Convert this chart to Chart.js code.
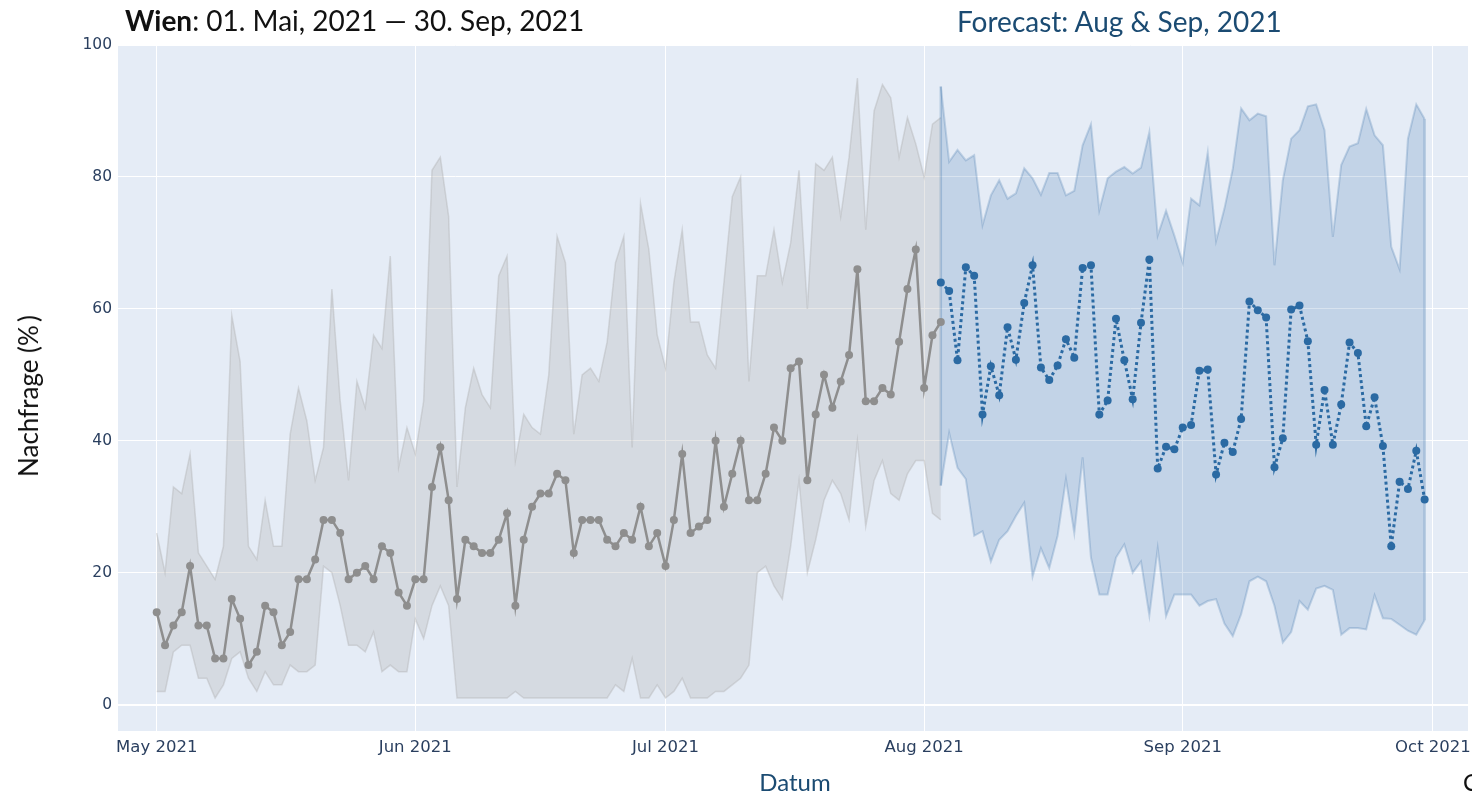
<!DOCTYPE html>
<html>
<head>
<meta charset="utf-8">
<script src="https://cdn.jsdelivr.net/npm/chart.js@4"></script>
<style>
  body { margin: 0; background: #fff; }
  #wrap { position: relative; width: 1472px; height: 794px; overflow: hidden; }
  #chart { position: absolute; left: 0; top: 0; }
  .lbl { position: absolute; font-family: Lato, sans-serif; white-space: nowrap; line-height: 1; }
</style>
</head>
<body>
<div id="wrap">
  <canvas id="chart" width="1472" height="794"></canvas>
  <div class="lbl" style="left:125px; top:6px; font-size:28px; color:#111;"><b>Wien</b>: 01. Mai, 2021 — 30. Sep, 2021</div>
  <div class="lbl" style="left:957px; top:7px; font-size:28px; color:#1b4b72;">Forecast: Aug &amp; Sep, 2021</div>
  <div class="lbl" style="left:28px; top:396px; font-size:26px; color:#111; transform: translate(-50%,-50%) rotate(-90deg);">Nachfrage (%&#8201;)</div>
  <div class="lbl" style="left:795px; top:782px; font-size:24px; color:#1b4b72; transform: translate(-50%,-50%);">Datum</div>
  <div class="lbl" style="left:1463px; top:770px; font-size:24px; color:#111;">C</div>
</div>
<script>
// days counted from 01. Mai 2021 (index 0)
var histStart = 0;      // 01.05.2021
var forecastStart = 94; // 03.08.2021

// observed demand (%), daily
var histMean = [14, 9, 12, 14, 21, 12, 12, 7, 7, 16, 13, 6, 8, 15, 14, 9, 11, 19, 19, 22,
  28, 28, 26, 19, 20, 21, 19, 24, 23, 17, 15, 19, 19, 33, 39, 31, 16, 25, 24, 23,
  23, 25, 29, 15, 25, 30, 32, 32, 35, 34, 23, 28, 28, 28, 25, 24, 26, 25, 30, 24,
  26, 21, 28, 38, 26, 27, 28, 40, 30, 35, 40, 31, 31, 35, 42, 40, 51, 52, 34, 44,
  50, 45, 49, 53, 66, 46, 46, 48, 47, 55, 63, 69, 48, 56, 58];
var histUpper = [26, 20, 33, 32, 38, 23, 21, 19, 24, 59, 52, 24, 22, 31, 24, 24, 41, 48, 43, 34,
  39, 63, 46, 34, 49, 45, 56, 54, 68, 36, 42, 38, 46, 81, 83, 74, 33, 45, 51, 47,
  45, 65, 68, 37, 44, 42, 41, 50, 71, 67, 41, 50, 51, 49, 55, 67, 71, 39, 76, 69,
  56, 51, 64, 72, 58, 58, 53, 51, 64, 77, 80, 49, 65, 65, 72, 64, 70, 81, 60, 82,
  81, 83, 74, 83, 95, 72, 90, 94, 92, 83, 89, 85, 80, 88, 89];
var histLower = [2, 2, 8, 9, 9, 4, 4, 1, 3, 7, 8, 4, 2, 5, 3, 3, 6, 5, 5, 6,
  21, 20, 15, 9, 9, 8, 11, 5, 6, 5, 5, 13, 10, 15, 18, 15, 1, 1, 1, 1,
  1, 1, 1, 2, 1, 1, 1, 1, 1, 1, 1, 1, 1, 1, 1, 3, 2, 7, 1, 1,
  3, 1, 2, 4, 1, 1, 1, 2, 2, 3, 4, 6, 20, 21, 18, 16, 24, 34, 20, 25,
  31, 34, 32, 28, 40, 27, 34, 37, 32, 31, 35, 37, 37, 29, 28];

// forecast (%), 03.08. - 30.09.2021
var fcMean = [64, 62.7, 52.2, 66.3, 65, 44, 51.3, 46.9, 57.2, 52.3, 60.9, 66.6, 51.1, 49.2, 51.4, 55.4, 52.6, 66.2, 66.6, 44,
  46.1, 58.5, 52.2, 46.3, 57.9, 67.5, 35.8, 39.1, 38.7, 42, 42.4, 50.6, 50.8, 34.9, 39.7, 38.3, 43.3, 61.1, 59.8, 58.7,
  36, 40.4, 59.9, 60.5, 55.1, 39.4, 47.7, 39.4, 45.5, 54.9, 53.3, 42.2, 46.6, 39.2, 24, 33.8, 32.7, 38.5, 31.1];
var fcUpper = [93.7, 82.3, 84.1, 82.5, 83.3, 72.7, 77.2, 79.5, 76.7, 77.5, 81.3, 79.8, 77.3, 80.6, 80.6, 77.2, 77.9, 84.8, 88, 74.9,
  79.8, 80.8, 81.5, 80.5, 81.4, 86.8, 71.1, 74.9, 71.1, 67, 76.7, 75.7, 83.7, 70.3, 75.2, 81.2, 90.4, 88.6, 89.6, 89.2,
  66.6, 79.5, 85.8, 87.1, 90.7, 91, 87.1, 70.9, 81.8, 84.6, 85.1, 90.3, 86.3, 84.8, 69.4, 66, 85.8, 91, 88.8];
var fcLower = [33.2, 41.2, 35.9, 34.2, 25.6, 26.3, 21.7, 25, 26.3, 28.6, 30.6, 19.4, 23.7, 20.7, 25.6, 34.2, 26, 37.5, 22.3, 16.7,
  16.7, 22.3, 24.3, 20, 21.7, 13.5, 23.7, 13.4, 16.7, 16.7, 16.7, 15, 15.7, 16, 12.3, 10.4, 13.7, 18.7, 19.4, 18.7,
  15, 9.4, 11, 15.7, 14.4, 17.6, 18, 17.4, 10.6, 11.6, 11.6, 11.4, 16.6, 13.1, 13, 12.1, 11.2, 10.6, 12.8];

// axis ticks
var monthStarts = [0, 31, 61, 92, 123, 153];
var monthLabels = ['May 2021', 'Jun 2021', 'Jul 2021', 'Aug 2021', 'Sep 2021', 'Oct 2021'];
var yTicks = [0, 20, 40, 60, 80, 100];

function pts(start, vals) {
  return vals.map(function(v, i) { return { x: start + i, y: v }; });
}

// closing edges of the forecast band (first and last day)
var fcLast = forecastStart + fcMean.length - 1;
var edgeStart = [{ x: forecastStart, y: fcLower[0] }, { x: forecastStart, y: fcUpper[0] }];
var edgeEnd = [{ x: fcLast, y: fcLower[fcLower.length - 1] }, { x: fcLast, y: fcUpper[fcUpper.length - 1] }];

var edgeStyle = { borderColor: 'rgba(40,100,160,0.25)', borderWidth: 2.5, pointRadius: 0, fill: false, order: 3 };

var ctx = document.getElementById('chart').getContext('2d');
var chart = new Chart(ctx, {
  type: 'line',
  data: {
    datasets: [
      { // grey band
        data: pts(histStart, histUpper), borderColor: 'rgba(170,170,170,0.35)', borderWidth: 1.5,
        backgroundColor: 'rgba(175,175,175,0.30)', fill: '+1', pointRadius: 0, order: 4
      },
      {
        data: pts(histStart, histLower), borderColor: 'rgba(170,170,170,0.35)', borderWidth: 1.5,
        pointRadius: 0, fill: false, order: 4
      },
      { // blue band
        data: pts(forecastStart, fcUpper), borderColor: 'rgba(40,100,160,0.22)', borderWidth: 2,
        backgroundColor: 'rgba(40,100,165,0.18)', fill: '+1', pointRadius: 0, order: 3
      },
      {
        data: pts(forecastStart, fcLower), borderColor: 'rgba(40,100,160,0.22)', borderWidth: 2,
        pointRadius: 0, fill: false, order: 3
      },
      Object.assign({ data: edgeStart }, edgeStyle),
      Object.assign({ data: edgeEnd }, edgeStyle),
      {
        data: pts(histStart, histMean), borderColor: '#8e8e8e', backgroundColor: '#8e8e8e',
        borderWidth: 2.5, pointRadius: 4, pointBorderWidth: 0, fill: false, order: 1
      },
      {
        data: pts(forecastStart, fcMean), borderColor: '#2b6aa3', backgroundColor: '#2b6aa3',
        borderWidth: 3, borderDash: [3, 3], pointRadius: 4, pointBorderWidth: 0, fill: false, order: 0
      }
    ]
  },
  options: {
    responsive: false,
    animation: false,
    devicePixelRatio: 1,
    layout: { padding: { top: 45, left: 0, right: 0, bottom: 0 } },
    plugins: { legend: { display: false }, tooltip: { enabled: false } },
    elements: { line: { tension: 0 } },
    scales: {
      x: {
        type: 'linear', min: -4.64, max: 157.2,
        afterBuildTicks: function(scale) { scale.ticks = monthStarts.map(function(v) { return { value: v }; }); },
        afterFit: function(scale) {
          scale.height = 63;
          scale.paddingLeft = 0;
          scale.paddingRight = 0;
        },
        ticks: {
          autoSkip: false, maxRotation: 0, padding: 7, color: '#2a3f5f',
          font: { family: 'DejaVu Sans', size: 16.5 },
          callback: function(v, i) { return monthLabels[i]; }
        },
        grid: { color: '#ffffff', lineWidth: 1, drawTicks: false },
        border: { display: false }
      },
      y: {
        min: -4, max: 100,
        afterBuildTicks: function(scale) { scale.ticks = yTicks.map(function(v) { return { value: v }; }); },
        afterFit: function(scale) { scale.width = 118; },
        ticks: { padding: 6, color: '#2a3f5f', font: { family: 'DejaVu Sans', size: 15.5 } },
        grid: {
          color: '#ffffff', drawTicks: false,
          lineWidth: function(c) { return c.tick && c.tick.value === 0 ? 2 : 1; }
        },
        border: { display: false }
      }
    }
  },
  plugins: [{
    id: 'plotBg',
    beforeDraw: function(c) {
      var a = c.chartArea;
      c.ctx.save();
      c.ctx.fillStyle = '#e5ecf6';
      c.ctx.fillRect(a.left, a.top, a.right - a.left, a.bottom - a.top);
      c.ctx.restore();
    }
  }]
});
</script>
</body>
</html>
